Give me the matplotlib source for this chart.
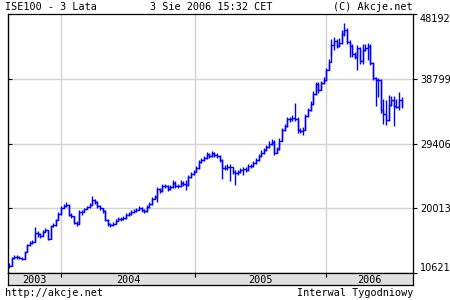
import numpy as np
import matplotlib.pyplot as plt

# weekly ISE100 bars (Aug 2003 - Aug 2006)
close = [11650, 12810, 12960, 12960, 12810, 12670, 13680, 14700, 14990, 15130,
         16440, 16290, 16000, 16580, 16870, 15560, 17450, 17600, 18320, 19190,
         20060, 20350, 20500, 19050, 18900, 17890, 17740, 19480, 19480, 19920,
         20210, 20500, 21220, 20930, 20350, 20060, 19630, 18320, 17740, 17600,
         17740, 18180, 18470, 18470, 18610, 19050, 19190, 19480, 19630, 19780,
         20060, 19780, 19630, 20210, 20640, 21370, 21660, 22820, 22530, 23250,
         23250, 22820, 23110, 23690, 23250, 23250, 23690, 23540, 23400, 24560,
         25000, 25280, 25860, 26730, 27020, 27310, 27890, 27600, 28040, 27750,
         27600, 27020, 25860, 25860, 26010, 26010, 25280, 25140, 25280, 25570,
         25720, 25570, 26150, 26150, 26590, 27020, 27600, 28040, 28470, 28910,
         29340, 29630, 28040, 28620, 29780, 31370, 31950, 32960, 32960, 33110,
         32960, 31370, 31230, 31370, 33400, 34270, 35140, 36590, 38040, 37170,
         38190, 38620, 40070, 41230, 43700, 44280, 43550, 43990, 45290, 45870,
         44130, 43550, 42390, 41950, 43260, 41380, 42970, 43260, 43550, 41090,
         38910, 38620, 38620, 34270, 33690, 32820, 34990, 35720, 34850, 34710,
         35720, 34850]
high = [12000, 13000, 13300, 13200, 13100, 12900, 13800, 14900, 15200, 15400,
        17300, 16700, 16400, 16900, 17200, 16900, 17600, 17900, 18500, 19400,
        20400, 20700, 20900, 20600, 19300, 18900, 18100, 19800, 19700, 20100,
        20400, 20800, 21800, 21400, 21000, 20500, 20100, 19700, 18400, 17900,
        18000, 18500, 18700, 18800, 18900, 19300, 19500, 19700, 19900, 20100,
        20300, 20200, 19900, 20500, 20900, 21600, 22000, 23100, 22900, 23600,
        23500, 23400, 23400, 24100, 23900, 23500, 24100, 23900, 24100, 24800,
        25300, 25600, 26100, 27000, 27300, 27600, 28200, 28100, 28300, 28200,
        28000, 27800, 27100, 26300, 26400, 26500, 25700, 25500, 25600, 25900,
        26000, 26000, 26500, 26500, 26900, 27300, 27900, 28400, 28800, 29200,
        29700, 30000, 29900, 28900, 30200, 31600, 32300, 33300, 33300, 33500,
        35300, 33200, 31700, 31800, 33700, 34600, 35500, 37000, 38400, 38300,
        38500, 39000, 40400, 41600, 44500, 44900, 44600, 44700, 45900, 46900,
        46100, 44400, 43800, 42700, 43700, 43400, 43800, 43800, 44000, 43800,
        41200, 39000, 38900, 38700, 35900, 35700, 36400, 36300, 36300, 35900,
        36900, 36100]
low = [11300, 11600, 12600, 12700, 12600, 12500, 12600, 13600, 14500, 14900,
       15100, 15900, 15700, 16000, 16500, 15400, 15500, 17300, 17500, 18300,
       19100, 20000, 20200, 18900, 18600, 17700, 17500, 17700, 19100, 19400,
       19900, 20100, 20500, 20700, 20100, 19800, 19300, 18100, 17500, 17300,
       17400, 17700, 18100, 18200, 18300, 18500, 18900, 19100, 19300, 19400,
       19700, 19500, 19300, 19500, 20100, 20500, 21300, 20900, 22200, 22400,
       22900, 22500, 22700, 23000, 22900, 22900, 23100, 23200, 22700, 23300,
       24400, 24900, 25200, 25700, 26600, 26900, 27200, 27300, 27400, 27500,
       27300, 26700, 24200, 25500, 25500, 24000, 25000, 23400, 24800, 25100,
       24800, 25200, 25400, 25800, 26000, 26500, 26900, 27500, 27900, 28300,
       28800, 29200, 27800, 28000, 28500, 29700, 31200, 31800, 32500, 32700,
       32600, 31000, 30900, 30600, 31300, 33300, 34100, 35000, 36500, 36800,
       37100, 38100, 38500, 40000, 42100, 43000, 43200, 43400, 43900, 45000,
       43800, 41900, 41900, 41600, 40000, 41000, 40900, 42800, 41500, 40800,
       38600, 34900, 36100, 33900, 32200, 32100, 32700, 34800, 32000, 34500,
       34200, 34600]

year_labels = ['2003', '2004', '2005', '2006']
year_starts = [20.1, 71.5, 121.9]   # week index where each new year begins
y_ticks = [10621, 20013, 29406, 38799, 48192]

W, H = 450, 300
blue = '#0000ff'
grid = '#d3d3d3'
mono = 'DejaVu Sans Mono'

fig = plt.figure(figsize=(W / 100, H / 100), dpi=100)
ax = fig.add_axes([8 / W, 1 - 273 / H, 405 / W, 259 / H])
wk = np.arange(len(close))
xlim = (-0.4, 155.4)

for b in year_starts:
    ax.axvline(b, color=grid, lw=1.0, zorder=0)
for t in y_ticks[1:-1]:
    ax.axhline(t, color=grid, lw=1.0, zorder=0)

ax.vlines(wk, low, high, color=blue, lw=1.0)
ax.step(wk, close, where='post', color=blue, lw=1.0)

ax.set_xlim(xlim)
ax.set_ylim(y_ticks[0], y_ticks[-1])
ax.set_xticks([])
ax.yaxis.tick_right()
ax.set_yticks(y_ticks)
ax.set_yticklabels([str(t) for t in y_ticks])
ax.tick_params(axis='y', direction='out', length=3, width=0.8, pad=2,
               labelsize=7, right=True, left=False, labelright=True, labelleft=False)
labs = ax.get_yticklabels()
labs[0].set_va('bottom')
labs[-1].set_va('top')
for s in ax.spines.values():
    s.set_linewidth(0.9)

lft = ax.secondary_yaxis('left')
lft.set_yticks(y_ticks)
lft.set_yticklabels([])
lft.tick_params(direction='in', length=3, width=0.8)

# year strip under the chart
sx = fig.add_axes([8 / W, 1 - 285 / H, 405 / W, 12 / H])
sx.set_facecolor('#e0e0e0')
sx.set_xlim(xlim)
sx.set_ylim(0, 1)
sx.set_yticks([])
sx.set_xticks(year_starts)
sx.set_xticklabels([])
sx.tick_params(axis='x', direction='in', top=True, bottom=False, length=3, width=0.8)
for s in sx.spines.values():
    s.set_linewidth(0.9)
edges = [xlim[0]] + year_starts + [xlim[1]]
for i, lab in enumerate(year_labels):
    sx.text((edges[i] + edges[i + 1]) / 2, 0.45, lab, ha='center', va='center',
            family=mono, size=7.3)

fig.text(5 / W, 1 - 7 / H, 'ISE100 - 3 Lata', ha='left', va='center', family=mono, size=7.3)
fig.text(150 / W, 1 - 7 / H, '3 Sie 2006 15:32 CET', ha='left', va='center', family=mono, size=7.3)
fig.text(413 / W, 1 - 7 / H, '(C) Akcje.net', ha='right', va='center', family=mono, size=7.3)
fig.text(5 / W, 1 - 293 / H, 'http://akcje.net', ha='left', va='center', family=mono, size=7.3)
fig.text(413 / W, 1 - 293 / H, 'Interwal Tygodniowy', ha='right', va='center', family=mono, size=7.3)

fig.savefig('out.png', dpi=100)
